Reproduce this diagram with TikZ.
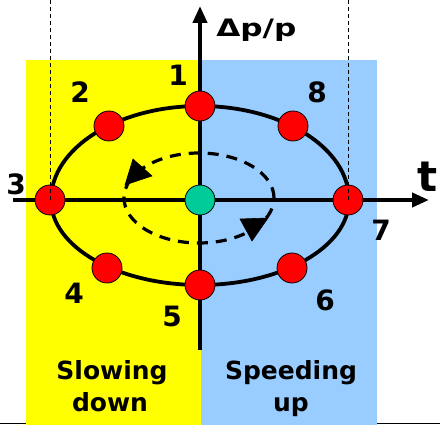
\documentclass[tikz,border=0pt]{standalone}
\usepackage{fontspec}
\setmainfont{DejaVu Sans}
\usetikzlibrary{arrows.meta}
\definecolor{yel}{RGB}{255,255,0}
\definecolor{blu}{RGB}{153,204,255}
\definecolor{grn}{RGB}{0,204,153}
\definecolor{rd}{RGB}{255,0,0}
\begin{document}
\begin{tikzpicture}[x=1pt,y=1pt,
  dot/.style={circle,draw=black,line width=0.8pt,fill=rd,minimum size=30pt,inner sep=0pt},
  cdot/.style={dot,fill=grn},
  lab/.style={font=\bfseries\fontsize{28}{28}\selectfont,inner sep=0pt},
  wordlab/.style={font=\bfseries\fontsize{25}{25}\selectfont,inner sep=0pt,anchor=base},
  axis/.style={line width=4pt,-{Triangle[length=17pt,width=14pt]}},
  orbit/.style={line width=3.8pt},
  guide/.style={line width=0.9pt,dash pattern=on 4pt off 3pt},
  motion/.style={line width=3.2pt,dash pattern=on 11pt off 8pt},
  head/.style={fill=black,draw=black,line width=0.6pt,line join=miter}
]
\useasboundingbox (0,0) rectangle (440,-425);
% bottom rule
\coordinate (bl) at (0,-423.5);
\coordinate (br) at (440,-423.5);
\draw[line width=1.5pt] (bl) -- (br);
% background regions
\fill[yel] (26,-60) rectangle (201,-425);
\fill[blu] (201,-60) rectangle (377,-425);
% phase-space ellipse
\draw[orbit] (349,-200) arc[start angle=0,end angle=180,x radius=149pt,y radius=94pt]
             arc[start angle=180,end angle=360,x radius=149pt,y radius=85pt];
% axes
\coordinate (xl) at (13,-200);
\coordinate (xr) at (429,-200);
\coordinate (yb) at (200,-350);
\coordinate (yt) at (200,-6);
\draw[axis] (xl) -- (xr);
\draw[axis] (yb) -- (yt);
% inner dashed orbit
\draw[motion] (274,-198) arc[start angle=0,end angle=360,x radius=75pt,y radius=45pt];
\draw[head] (133,-159) -- (152,-176) -- (125,-185) -- cycle;
\draw[head] (240,-219) -- (268,-218) -- (252,-241) -- cycle;
% particles
\node[dot] (p1) at (200,-106) {};
\node[dot] (p2) at (109,-126) {};
\node[dot] (p3) at (50,-200) {};
\node[dot] (p4) at (107,-268) {};
\node[dot] (p5) at (200,-285) {};
\node[dot] (p6) at (292,-268) {};
\node[dot] (p7) at (348,-200) {};
\node[dot] (p8) at (293,-126) {};
\node[cdot] (p0) at (200,-200) {};
% thin guides
\coordinate (g3) at (50,0);
\coordinate (g7) at (348,0);
\draw[guide] (g3) -- (p3.center);
\draw[guide] (g7) -- (p7.center);
% labels
\node[lab] (l1) at (178,-75) {1};
\node[lab] (l2) at (80,-92) {2};
\node[lab] (l3) at (16,-184) {3};
\node[lab] (l4) at (74,-293) {4};
\node[lab] (l5) at (172,-316) {5};
\node[lab] (l6) at (325,-300) {6};
\node[lab] (l7) at (381,-230) {7};
\node[lab] (l8) at (317,-92) {8};
\node[lab,font=\bfseries\fontsize{42}{42}\selectfont] (lt) at (428,-177) {t};
\node[font=\bfseries\fontsize{24}{24}\selectfont,inner sep=0pt,anchor=base west,
      transform shape,xscale=1.3] (lp) at (216,-37) {Δp/p};
\node[wordlab] (s1) at (112,-380) {Slowing};
\node[wordlab] (s2) at (110,-412) {down};
\node[wordlab] (u1) at (291,-380) {Speeding};
\node[wordlab] (u2) at (291,-412) {up};
\end{tikzpicture}
\end{document}
